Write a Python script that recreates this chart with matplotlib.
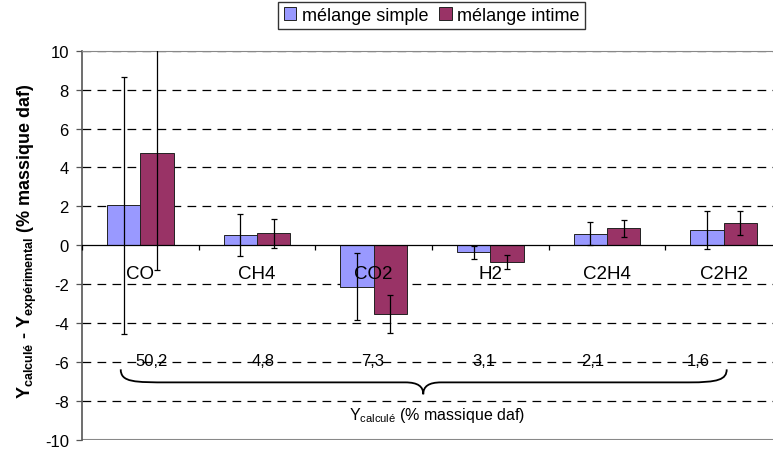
import numpy as np
import matplotlib
matplotlib.use("Agg")
import matplotlib.pyplot as plt
from matplotlib.path import Path
from matplotlib.patches import PathPatch

plt.rcParams['font.family'] = ['Liberation Sans', 'DejaVu Sans']
plt.rcParams['mathtext.fontset'] = 'custom'
plt.rcParams['mathtext.rm'] = 'Liberation Sans'
plt.rcParams['mathtext.it'] = 'Liberation Sans'
plt.rcParams['mathtext.bf'] = 'Liberation Sans:bold'
plt.rcParams['axes.unicode_minus'] = False

# ecarts calcule - experimental, par gaz
gaz = ['CO', 'CH4', 'CO2', 'H2', 'C2H4', 'C2H2']
simple = [2.05, 0.52, -2.12, -0.36, 0.60, 0.78]
simple_err = [6.6, 1.07, 1.74, 0.33, 0.60, 0.96]
intime = [4.72, 0.61, -3.53, -0.86, 0.87, 1.15]
intime_err = [6.0, 0.76, 0.96, 0.35, 0.42, 0.63]
# rendement calcule (% massique daf)
y_calc = ['50,2', '4,8', '7,3', '3,1', '2,1', '1,6']
y_calc_x = [0.10, 1.05, 1.99, 2.94, 3.88, 4.78]

BLEU = '#9999FF'
POURPRE = '#993366'
W = 0.285

fig = plt.figure(figsize=(7.73, 4.52), dpi=100)
ax = fig.add_axes([82 / 773, 11 / 452, 700 / 773, 389.3 / 452])

x = np.arange(len(gaz))
ax.bar(x - W / 2, simple, W, color=BLEU, edgecolor='#222222', linewidth=0.7,
       label='mélange simple', zorder=3)
ax.bar(x + W / 2, intime, W, color=POURPRE, edgecolor='#222222', linewidth=0.7,
       label='mélange intime', zorder=3)
ax.errorbar(x - W / 2, simple, yerr=simple_err, fmt='none', ecolor='black',
            elinewidth=0.9, capsize=2, capthick=0.9, zorder=4)
ax.errorbar(x + W / 2, intime, yerr=intime_err, fmt='none', ecolor='black',
            elinewidth=0.9, capsize=2, capthick=0.9, zorder=4)

ax.set_xlim(-0.5, len(gaz) - 0.5)
ax.set_ylim(-10, 10)
ax.set_yticks(np.arange(-10, 11, 2))
ax.tick_params(axis='y', direction='out', length=4.5, width=0.9, color='#555555',
               labelsize=12, pad=5)

# grille pointillee
for yv in range(-8, 11, 2):
    if yv != 0:
        ax.axhline(yv, color='black', linewidth=0.9, dashes=(7, 5), zorder=1)

# axe des categories sur y = 0
ax.spines['bottom'].set_position(('data', 0))
ax.spines['bottom'].set_color('black')
ax.spines['bottom'].set_linewidth(0.9)
ax.spines['bottom'].set_zorder(5)
ax.spines['left'].set_color('#555555')
ax.spines['left'].set_linewidth(1.2)
ax.spines['top'].set_color('#888888')
ax.spines['right'].set_color('#888888')
ax.axhline(-10, color='#888888', linewidth=1.5, zorder=2)
ax.set_xticks(x)
ax.set_xticklabels(gaz, fontsize=13.5)
ax.set_xticks(np.arange(-0.5, len(gaz)), minor=True)
ax.tick_params(axis='x', which='major', length=0, pad=14)
ax.tick_params(axis='x', which='minor', direction='out', length=3.5, width=0.9)
ax.xaxis.set_zorder(6)

for xv, lab in zip(y_calc_x, y_calc):
    ax.text(xv, -5.9, lab, ha='center', va='center', fontsize=12)

# accolade sous les valeurs calculees
verts = [(-0.168, -6.37), (-0.168, -7.04), (-0.05, -7.04), (0.25, -7.04),
         (2.27, -7.04),
         (2.38, -7.04), (2.425, -7.25), (2.425, -7.65),
         (2.425, -7.25), (2.47, -7.04), (2.58, -7.04),
         (4.70, -7.04),
         (4.95, -7.04), (5.026, -6.9), (5.026, -6.37)]
codes = [Path.MOVETO, Path.CURVE4, Path.CURVE4, Path.CURVE4,
         Path.LINETO,
         Path.CURVE4, Path.CURVE4, Path.CURVE4,
         Path.CURVE4, Path.CURVE4, Path.CURVE4,
         Path.LINETO,
         Path.CURVE4, Path.CURVE4, Path.CURVE4]
ax.add_patch(PathPatch(Path(verts, codes), facecolor='none', edgecolor='black',
                       linewidth=1.3, zorder=4))
ax.text(2.54, -8.68, r'Y$_{\mathrm{calculé}}$ (% massique daf)',
        ha='center', va='center', fontsize=11.5)

ax.set_ylabel(r'$\mathbf{Y_{calculé}}$ - $\mathbf{Y_{expérimental}}$ (% massique daf)',
              fontsize=13, fontweight='bold')
ax.yaxis.set_label_coords(-0.062, 0.514)

fig.legend(loc='center', bbox_to_anchor=(431.5 / 773, 1 - 16.5 / 452), ncol=2,
           fontsize=13, frameon=True, fancybox=False, edgecolor='black',
           handlelength=0.7, handleheight=0.7, handletextpad=0.3,
           columnspacing=0.6, borderpad=0.3, borderaxespad=0)

fig.savefig('out.png', dpi=100)
